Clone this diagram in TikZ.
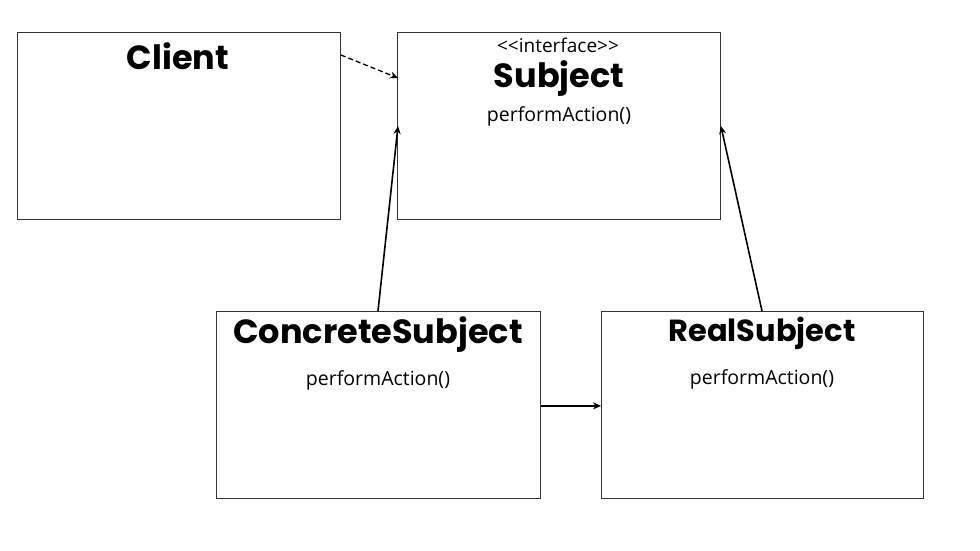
\documentclass[tikz,border=0pt]{standalone}
\usepackage{fontspec}
\setmainfont{Open Sans}
\newfontfamily\titlefont{Poppins}[UprightFont=* SemiBold, BoldFont=* Bold]
\usetikzlibrary{arrows.meta,calc}
\begin{document}
\begin{tikzpicture}[x=1pt,y=-1pt,
  classbox/.style={draw=black!80,line width=0.9pt,inner sep=0pt,anchor=north west},
  titletext/.style={font=\titlefont\bfseries\fontsize{33.5}{36}\selectfont,inner sep=0pt},
  smalltitle/.style={font=\titlefont\bfseries\fontsize{30.5}{33}\selectfont,inner sep=0pt},
  optext/.style={font=\fontsize{19.5}{22}\selectfont,inner sep=0pt},
  stereo/.style={font=\fontsize{19}{22}\selectfont,inner sep=0pt},
  link/.style={line width=1.6pt,-{Stealth[length=8pt,width=7pt]}}]
\useasboundingbox (0,0) rectangle (980,551);
\fill[white] (0,0) rectangle (980,551);
% boxes
\node[classbox,minimum width=323pt,minimum height=187pt] (client) at (17,32) {};
\node[classbox,minimum width=323pt,minimum height=187pt] (subject) at (397,32) {};
\node[classbox,minimum width=324pt,minimum height=187pt] (concrete) at (216,311) {};
\node[classbox,minimum width=322pt,minimum height=187pt] (real) at (601,311) {};
% texts
\node[titletext] (clientT) at (178,56) {Client};
\node[stereo] (subjectS) at (558,45) {{<}{<}interface{>}{>}};
\node[titletext] (subjectT) at (559,79) {Subject};
\node[optext] (subjectO) at (559,116) {performAction()};
\node[titletext] (concreteT) at (378,335) {ConcreteSubject};
\node[optext] (concreteO) at (378,380) {performAction()};
\node[smalltitle] (realT) at (762,333) {RealSubject};
\node[optext] (realO) at (762,379) {performAction()};
% connectors
\draw[link,dashed,line width=1.3pt,dash pattern=on 5pt off 3pt] ($(client.north east)+(0,23)$) -- ($(subject.north west)+(1,46)$);
\draw[link] ($(concrete.north west)+(162,0)$) -- ($(subject.north west)+(1,94)$);
\draw[link] ($(real.north west)+(161,0)$) -- ($(subject.north east)+(0,94)$);
\draw[link] ($(concrete.south east)+(0,-93)$) -- ($(real.south west)+(0,-93)$);
\end{tikzpicture}
\end{document}
